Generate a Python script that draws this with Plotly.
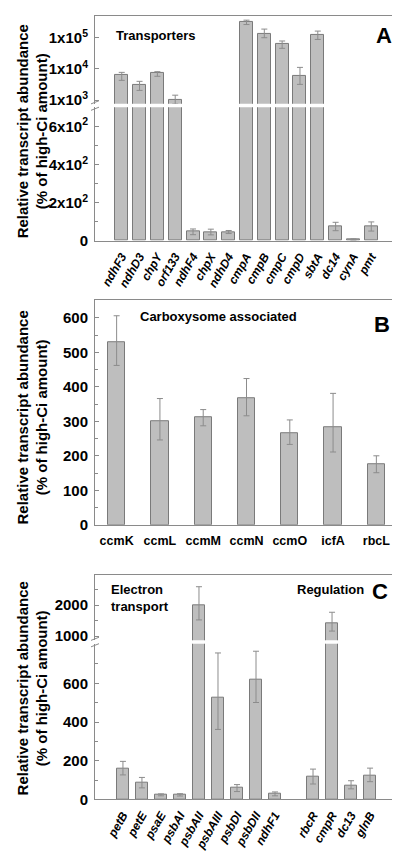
import plotly.graph_objects as go

# ---------------- data ----------------
genes_a = ["ndhF3", "ndhD3", "chpY", "orf133", "ndhF4", "chpX", "ndhD4",
           "cmpA", "cmpB", "cmpC", "cmpD", "sbtA", "dc14", "cynA", "pmt"]
vals_a = [6200, 3000, 7200, 1000, 47, 46, 46,
          315000, 137000, 61000, 6000, 122000, 75, 7, 75]
err_a_plus = [1550, 1000, 950, 440, 15, 15, 8,
              50000, 52000, 17500, 5200, 41000, 22, 3, 24]
err_a_minus = [1900, 950, 1400, 250, 15, 15, 8,
               51000, 37000, 15300, 2800, 34000, 22, 3, 24]

genes_b = ["ccmK", "ccmL", "ccmM", "ccmN", "ccmO", "icfA", "rbcL"]
vals_b = [530, 300, 311, 366, 265, 284, 175]
err_b_plus = [76, 66, 23, 58, 39, 97, 25]
err_b_minus = [68, 54, 24, 50, 32, 73, 24]

genes_elec = ["petB", "petE", "psaE", "psbAI", "psbAII", "psbAIII", "psbDI", "psbDII", "ndhF1"]
vals_elec = [157, 85, 24, 24, 2000, 525, 60, 617, 29]
err_elec_plus = [40, 29, 5, 6, 590, 232, 17, 149, 10]
err_elec_minus = [30, 25, 5, 6, 480, 163, 19, 116, 10]

genes_reg = ["rbcR", "cmpR", "dc13", "glnB"]
vals_reg = [118, 1425, 72, 121]
err_reg_plus = [39, 342, 25, 41]
err_reg_minus = [38, 265, 17, 29]

spacer = [" "]
genes_c = genes_elec + spacer + genes_reg
vals_c = vals_elec + [None] + vals_reg
err_c_plus = err_elec_plus + [None] + err_reg_plus
err_c_minus = err_elec_minus + [None] + err_reg_minus

ticks_a_up = [1e3, 1e4, 1e5]
ticktext_a_up = ["1x10<sup>3</sup>", "1x10<sup>4</sup>", "1x10<sup>5</sup>"]
ticks_a_lo = [0, 200, 400, 600]
ticktext_a_lo = ["0", "2x10<sup>2</sup>", "4x10<sup>2</sup>", "6x10<sup>2</sup>"]
ticks_b = [0, 100, 200, 300, 400, 500, 600]
ticks_c_up = [1000, 2000]
ticks_c_lo = [0, 200, 400, 600]

# ---------------- styling / geometry ----------------
W, H = 400, 852
FONT = "Liberation Sans"
LC = "#8a8a8a"
BAR = "#bebebe"
BAR_LINE = "#7a7a7a"
ERR = "#8c8c8c"


def fx(p):
    return p / W


def fy(p):
    return 1 - p / H


XL, XR = 87, 390
A_UP = (8, 96.7)
A_LO = (100.3, 235)
B_BOX = (295, 521.7)
C_UP = (572.7, 638.3)
C_LO = (641.7, 799)

fig = go.Figure()


def bars(x, y, ep, em, xa, ya, width):
    return go.Bar(
        x=x, y=y, xaxis=xa, yaxis=ya, width=width,
        marker=dict(color=BAR, line=dict(color=BAR_LINE, width=1)),
        error_y=dict(type="data", array=ep, arrayminus=em, symmetric=False,
                     color=ERR, thickness=1, width=3),
        showlegend=False, hoverinfo="skip",
    )


fig.add_trace(bars(genes_a, vals_a, err_a_plus, err_a_minus, "x", "y", 0.73))
fig.add_trace(bars(genes_a, vals_a, err_a_plus, err_a_minus, "x2", "y2", 0.73))
fig.add_trace(bars(genes_b, vals_b, err_b_plus, err_b_minus, "x3", "y3", 0.4))
fig.add_trace(bars(genes_c, vals_c, err_c_plus, err_c_minus, "x4", "y4", 0.62))
fig.add_trace(bars(genes_c, vals_c, err_c_plus, err_c_minus, "x5", "y5", 0.62))

tickfont_y = dict(family=FONT, size=15, color="black", weight="bold")
tickfont_rot = dict(family=FONT, size=12, color="black", weight="bold", style="italic")
tickfont_b = dict(family=FONT, size=12.5, color="black", weight="bold")


def yax(dom, rng, tv, tt=None, minor_vals=None, log=False, anchor="x"):
    d = dict(domain=[fy(dom[1]), fy(dom[0])], range=rng, anchor=anchor,
             showline=True, linecolor=LC, linewidth=1, mirror="ticks",
             ticks="inside", ticklen=4, tickcolor=LC, tickwidth=1,
             showgrid=False, zeroline=False, tickfont=tickfont_y,
             tickmode="array", tickvals=tv, ticklabelstandoff=3)
    if tt is not None:
        d["ticktext"] = tt
    if log:
        d["type"] = "log"
    if minor_vals is not None:
        d["minor"] = dict(tickmode="array", tickvals=minor_vals, ticks="inside",
                          ticklen=2.5, tickcolor=LC, tickwidth=1, showgrid=False)
    return d


def xax(cats, rng, anchor, side="bottom", labels=True, font=None, angle=0,
        mirror=False, standoff=4):
    d = dict(domain=[fx(XL), fx(XR)], range=rng, anchor=anchor, side=side,
             type="category", categoryorder="array", categoryarray=cats,
             showline=True, linecolor=LC, linewidth=1, mirror=mirror,
             ticks="", showgrid=False, zeroline=False,
             showticklabels=labels)
    if labels:
        d["tickfont"] = font
        d["tickangle"] = angle
        d["ticklabelstandoff"] = standoff
    return d


rng_a = [-1.5, len(genes_a) + 0.5]
rng_b = [-0.5, len(genes_b) - 0.5]
rng_c = [-1.47, len(genes_c) + 0.47]

fig.update_layout(
    width=W, height=H,
    margin=dict(l=0, r=0, t=0, b=0),
    paper_bgcolor="white", plot_bgcolor="white",
    bargap=0,
    xaxis=xax(genes_a, rng_a, "y", side="top", labels=False),
    yaxis=yax(A_UP, [2.8825, 5.698], ticks_a_up, ticktext_a_up, log=True, anchor="x"),
    xaxis2=xax(genes_a, rng_a, "y2", font=tickfont_rot, angle=-60, standoff=3),
    yaxis2=yax(A_LO, [0, 700], ticks_a_lo, ticktext_a_lo, [100, 300, 500, 700], anchor="x2"),
    xaxis3=xax(genes_b, rng_b, "y3", font=tickfont_b, angle=0, mirror=True),
    yaxis3=yax(B_BOX, [0, 651], ticks_b, None, [50, 150, 250, 350, 450, 550, 650], anchor="x3"),
    xaxis4=xax(genes_c, rng_c, "y4", side="top", labels=False),
    yaxis4=yax(C_UP, [863, 2958], ticks_c_up, None, [1500, 2500], anchor="x4"),
    xaxis5=xax(genes_c, rng_c, "y5", font=tickfont_rot, angle=-60, standoff=3),
    yaxis5=yax(C_LO, [0, 805], ticks_c_lo, None, [100, 300, 500, 700], anchor="x5"),
)

# ---------------- annotations ----------------
ann = []


def text(x, y, s, size, xanchor="left", yanchor="middle", angle=0, align="left"):
    ann.append(dict(x=fx(x), y=fy(y), xref="paper", yref="paper", text=s,
                    showarrow=False, xanchor=xanchor, yanchor=yanchor,
                    textangle=angle, align=align,
                    font=dict(family=FONT, size=size, color="black", weight="bold")))


ytitle = "Relative transcript abundance<br>(% of high-Ci amount)"
text(24, (A_UP[0] + A_LO[1]) / 2 + 3, ytitle, 15, xanchor="center", angle=-90, align="center")
text(24, (B_BOX[0] + B_BOX[1]) / 2 + 5, ytitle, 15, xanchor="center", angle=-90, align="center")
text(24, (C_UP[0] + C_LO[1]) / 2 + 1, ytitle, 15, xanchor="center", angle=-90, align="center")

text(106, 28, "Transporters", 13)
text(386, 28, "A", 22, xanchor="right")
text(130, 311, "Carboxysome associated", 13)
text(384, 319, "B", 22, xanchor="right")
text(101, 596, "Electron<br>transport", 13)
text(287, 587, "Regulation", 13)
text(382, 589, "C", 22, xanchor="right")

fig.update_layout(annotations=ann)

# ---------------- axis-break marks ----------------
shapes = []
for gap in (A_UP[1], C_UP[1]):
    gap_top = gap
    gap_bot = gap + 3.5
    for xc in (XL, XR):
        for yc in (gap_top - 1.5, gap_bot + 1.5):
            shapes.append(dict(type="line", xref="paper", yref="paper",
                               x0=fx(xc - 4), y0=fy(yc + 1.6),
                               x1=fx(xc + 4), y1=fy(yc - 1.6),
                               line=dict(color=LC, width=1)))
fig.update_layout(shapes=shapes)

fig.write_html("out.html")
